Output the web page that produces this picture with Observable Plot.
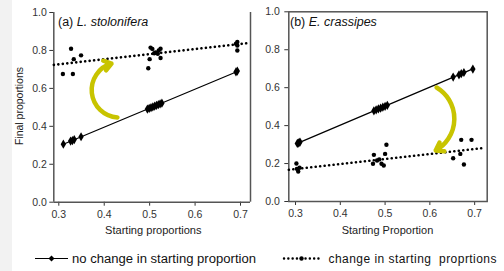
<!DOCTYPE html>
<html><head><meta charset="utf-8">
<script src="https://cdn.jsdelivr.net/npm/d3@7"></script>
<script src="https://cdn.jsdelivr.net/npm/@observablehq/plot@0.6"></script>
<style>
body{margin:0;background:#fff;font-family:"Liberation Sans",Arial,sans-serif;}
#wrap{position:relative;width:504px;height:271px;overflow:hidden;background:#fff;}
#strip{position:absolute;left:0;top:0;width:12px;height:271px;background:#f2f2f2;}
#pa{position:absolute;left:0;top:0;}
#pb{position:absolute;left:250px;top:0;}
.t{position:absolute;white-space:pre;color:#111;line-height:1;}
.title{font-size:12.5px;}
.lab{font-size:11px;color:#222;}
svg.sw{position:absolute;overflow:visible;}
</style></head><body>
<div id="wrap">
<div id="strip"></div>
<div id="pa"></div>
<div id="pb"></div>
<div class="t title" style="left:58px;top:16px">(a) <i>L. stolonifera</i></div>
<div class="t title" style="left:290px;top:16px">(b) <i>E. crassipes</i></div>
<svg class="sw" style="left:0;top:0" width="504" height="271">
  <text x="153.3" y="234" text-anchor="middle" font-size="11" fill="#222" textLength="96.5" lengthAdjust="spacingAndGlyphs">Starting proportions</text>
  <text x="387.5" y="234" text-anchor="middle" font-size="11" fill="#222" textLength="91.5" lengthAdjust="spacingAndGlyphs">Starting Proportion</text>
  <text transform="translate(22.5,106) rotate(-90)" text-anchor="middle" font-size="10.5" fill="#222" textLength="78" lengthAdjust="spacingAndGlyphs">Final proportions</text>
  <line x1="35" y1="258.5" x2="68" y2="258.5" stroke="#000" stroke-width="1.2"/>
  <path d="M51.5,255.5 L54.5,258.5 L51.5,261.5 L48.5,258.5 Z" fill="#000"/>
  <text x="72" y="262.5" font-size="12" fill="#111" textLength="184" lengthAdjust="spacingAndGlyphs">no change in starting proportion</text>
  <line x1="284" y1="258.5" x2="320" y2="258.5" stroke="#000" stroke-width="2.4" stroke-dasharray="0.1,4.2" stroke-linecap="round"/>
  <circle cx="301.5" cy="258.5" r="2.2" fill="#000"/>
  <text x="328.5" y="262.5" font-size="12" fill="#111" textLength="168" lengthAdjust="spacing" xml:space="preserve">change in starting  proprtions</text>
</svg>
</div>
<script>
// ---- data ----
const xTicks = [0.3, 0.4, 0.5, 0.6, 0.7];
const yTicks = [0.0, 0.2, 0.4, 0.6, 0.8, 1.0];
const xDomA = [0.289, 0.722];
const xDomB = [0.285, 0.728];

// Panel (a) L. stolonifera
const noA_x = [0.310,0.326,0.330,0.334,0.349,0.495,0.499,0.503,0.507,0.511,0.515,0.519,0.523,0.527,0.690,0.693];
const noA_y = [0.306,0.322,0.325,0.330,0.345,0.491,0.495,0.498,0.502,0.506,0.510,0.514,0.518,0.522,0.687,0.691];
const chA_x = [0.309,0.327,0.331,0.333,0.349,0.497,0.500,0.502,0.506,0.510,0.513,0.518,0.520,0.524,0.524,0.690,0.693,0.693,0.693];
const chA_y = [0.676,0.809,0.676,0.754,0.774,0.706,0.754,0.815,0.808,0.785,0.790,0.782,0.800,0.809,0.760,0.835,0.845,0.826,0.800];
const fitChA = [0.6466, 0.268];      // intercept, slope (dotted)
const fitRangeA = [0.289, 0.722];
const arrowA = {x1: 0.429, y1: 0.447, x2: 0.416, y2: 0.731};

// Panel (b) E. crassipes
const noB_x = [0.304,0.306,0.308,0.310,0.475,0.480,0.485,0.490,0.495,0.500,0.505,0.652,0.665,0.670,0.676,0.696];
const noB_y = [0.306,0.308,0.311,0.313,0.478,0.483,0.488,0.492,0.497,0.502,0.507,0.656,0.668,0.674,0.680,0.698];
const chB_x = [0.302,0.303,0.306,0.309,0.473,0.475,0.482,0.487,0.492,0.497,0.500,0.503,0.652,0.668,0.670,0.676,0.693];
const chB_y = [0.200,0.172,0.158,0.178,0.199,0.246,0.216,0.222,0.199,0.190,0.251,0.299,0.228,0.251,0.325,0.195,0.325];
const fitChB = [0.0918, 0.264];
const fitRangeB = [0.285, 0.718];
const arrowB = {x1: 0.615, y1: 0.601, x2: 0.613, y2: 0.269};

const arrowColor = "#c8c400";

// ---- helpers ----
const pts = (xs, ys) => xs.map((x, i) => ({x, y: ys[i]}));
function lsq(xs, ys) {
  const mx = d3.mean(xs), my = d3.mean(ys);
  const b = d3.sum(xs, (x, i) => (x - mx) * (ys[i] - my)) / d3.sum(xs, x => (x - mx) ** 2);
  const a = my - b * mx;
  const [x0, x1] = d3.extent(xs);
  return [{x: x0, y: a + b * x0}, {x: x1, y: a + b * x1}];
}
const fitLine = (f, r) => r.map(x => ({x, y: f[0] + f[1] * x}));

function panel(o) {
  return Plot.plot({
    width: o.width, height: 240,
    marginLeft: o.ml, marginRight: o.mr, marginTop: o.mt, marginBottom: o.mb,
    x: {domain: o.xDom, ticks: xTicks, tickFormat: d3.format(".1f"), tickSize: 4, tickPadding: 4, label: null},
    y: {domain: [0, 1], ticks: yTicks, tickFormat: d3.format(".1f"), tickSize: 4, tickPadding: o.yPad, label: null},
    style: {fontSize: "10.5px", fontFamily: "Liberation Sans, Arial, sans-serif", color: "#333", background: "transparent", overflow: "visible"},
    marks: [
      ...o.frame,
      Plot.line(fitLine(o.fitCh, o.fitRange), {x: "x", y: "y", stroke: "#000", strokeWidth: 2.6, strokeDasharray: "0.1,4.4", strokeLinecap: "round"}),
      Plot.line(lsq(o.noX, o.noY), {x: "x", y: "y", stroke: "#000", strokeWidth: 1.2}),
      Plot.dot(pts(o.chX, o.chY), {x: "x", y: "y", r: 2.2, fill: "#000", stroke: null}),
      Plot.dot(pts(o.noX, o.noY), {x: "x", y: "y", r: 2.8, symbol: "diamond", fill: "#000", stroke: null}),
      Plot.arrow([o.arrow], {x1: "x1", y1: "y1", x2: "x2", y2: "y2", bend: o.bend, stroke: arrowColor, strokeWidth: 4.5, headLength: 2.9, headAngle: 70})
    ]
  });
}

document.getElementById("pa").append(panel({
  width: 252, ml: 53.3, mr: 2, mt: 12, mb: 38.3, xDom: xDomA, yPad: 3,
  frame: [Plot.ruleX(xDomA, {stroke: "#555", strokeWidth: 1.5}), Plot.ruleY([0], {stroke: "#555", strokeWidth: 1.5})],
  noX: noA_x, noY: noA_y, chX: chA_x, chY: chA_y, fitCh: fitChA, fitRange: fitRangeA, arrow: arrowA, bend: 80
}));
document.getElementById("pb").append(panel({
  width: 254, ml: 38.3, mr: 17.3, mt: 11.3, mb: 39, xDom: xDomB, yPad: 5,
  frame: [Plot.frame({stroke: "#555", strokeWidth: 1.5})],
  noX: noB_x, noY: noB_y, chX: chB_x, chY: chB_y, fitCh: fitChB, fitRange: fitRangeB, arrow: arrowB, bend: 60
}));
</script>
</body></html>
